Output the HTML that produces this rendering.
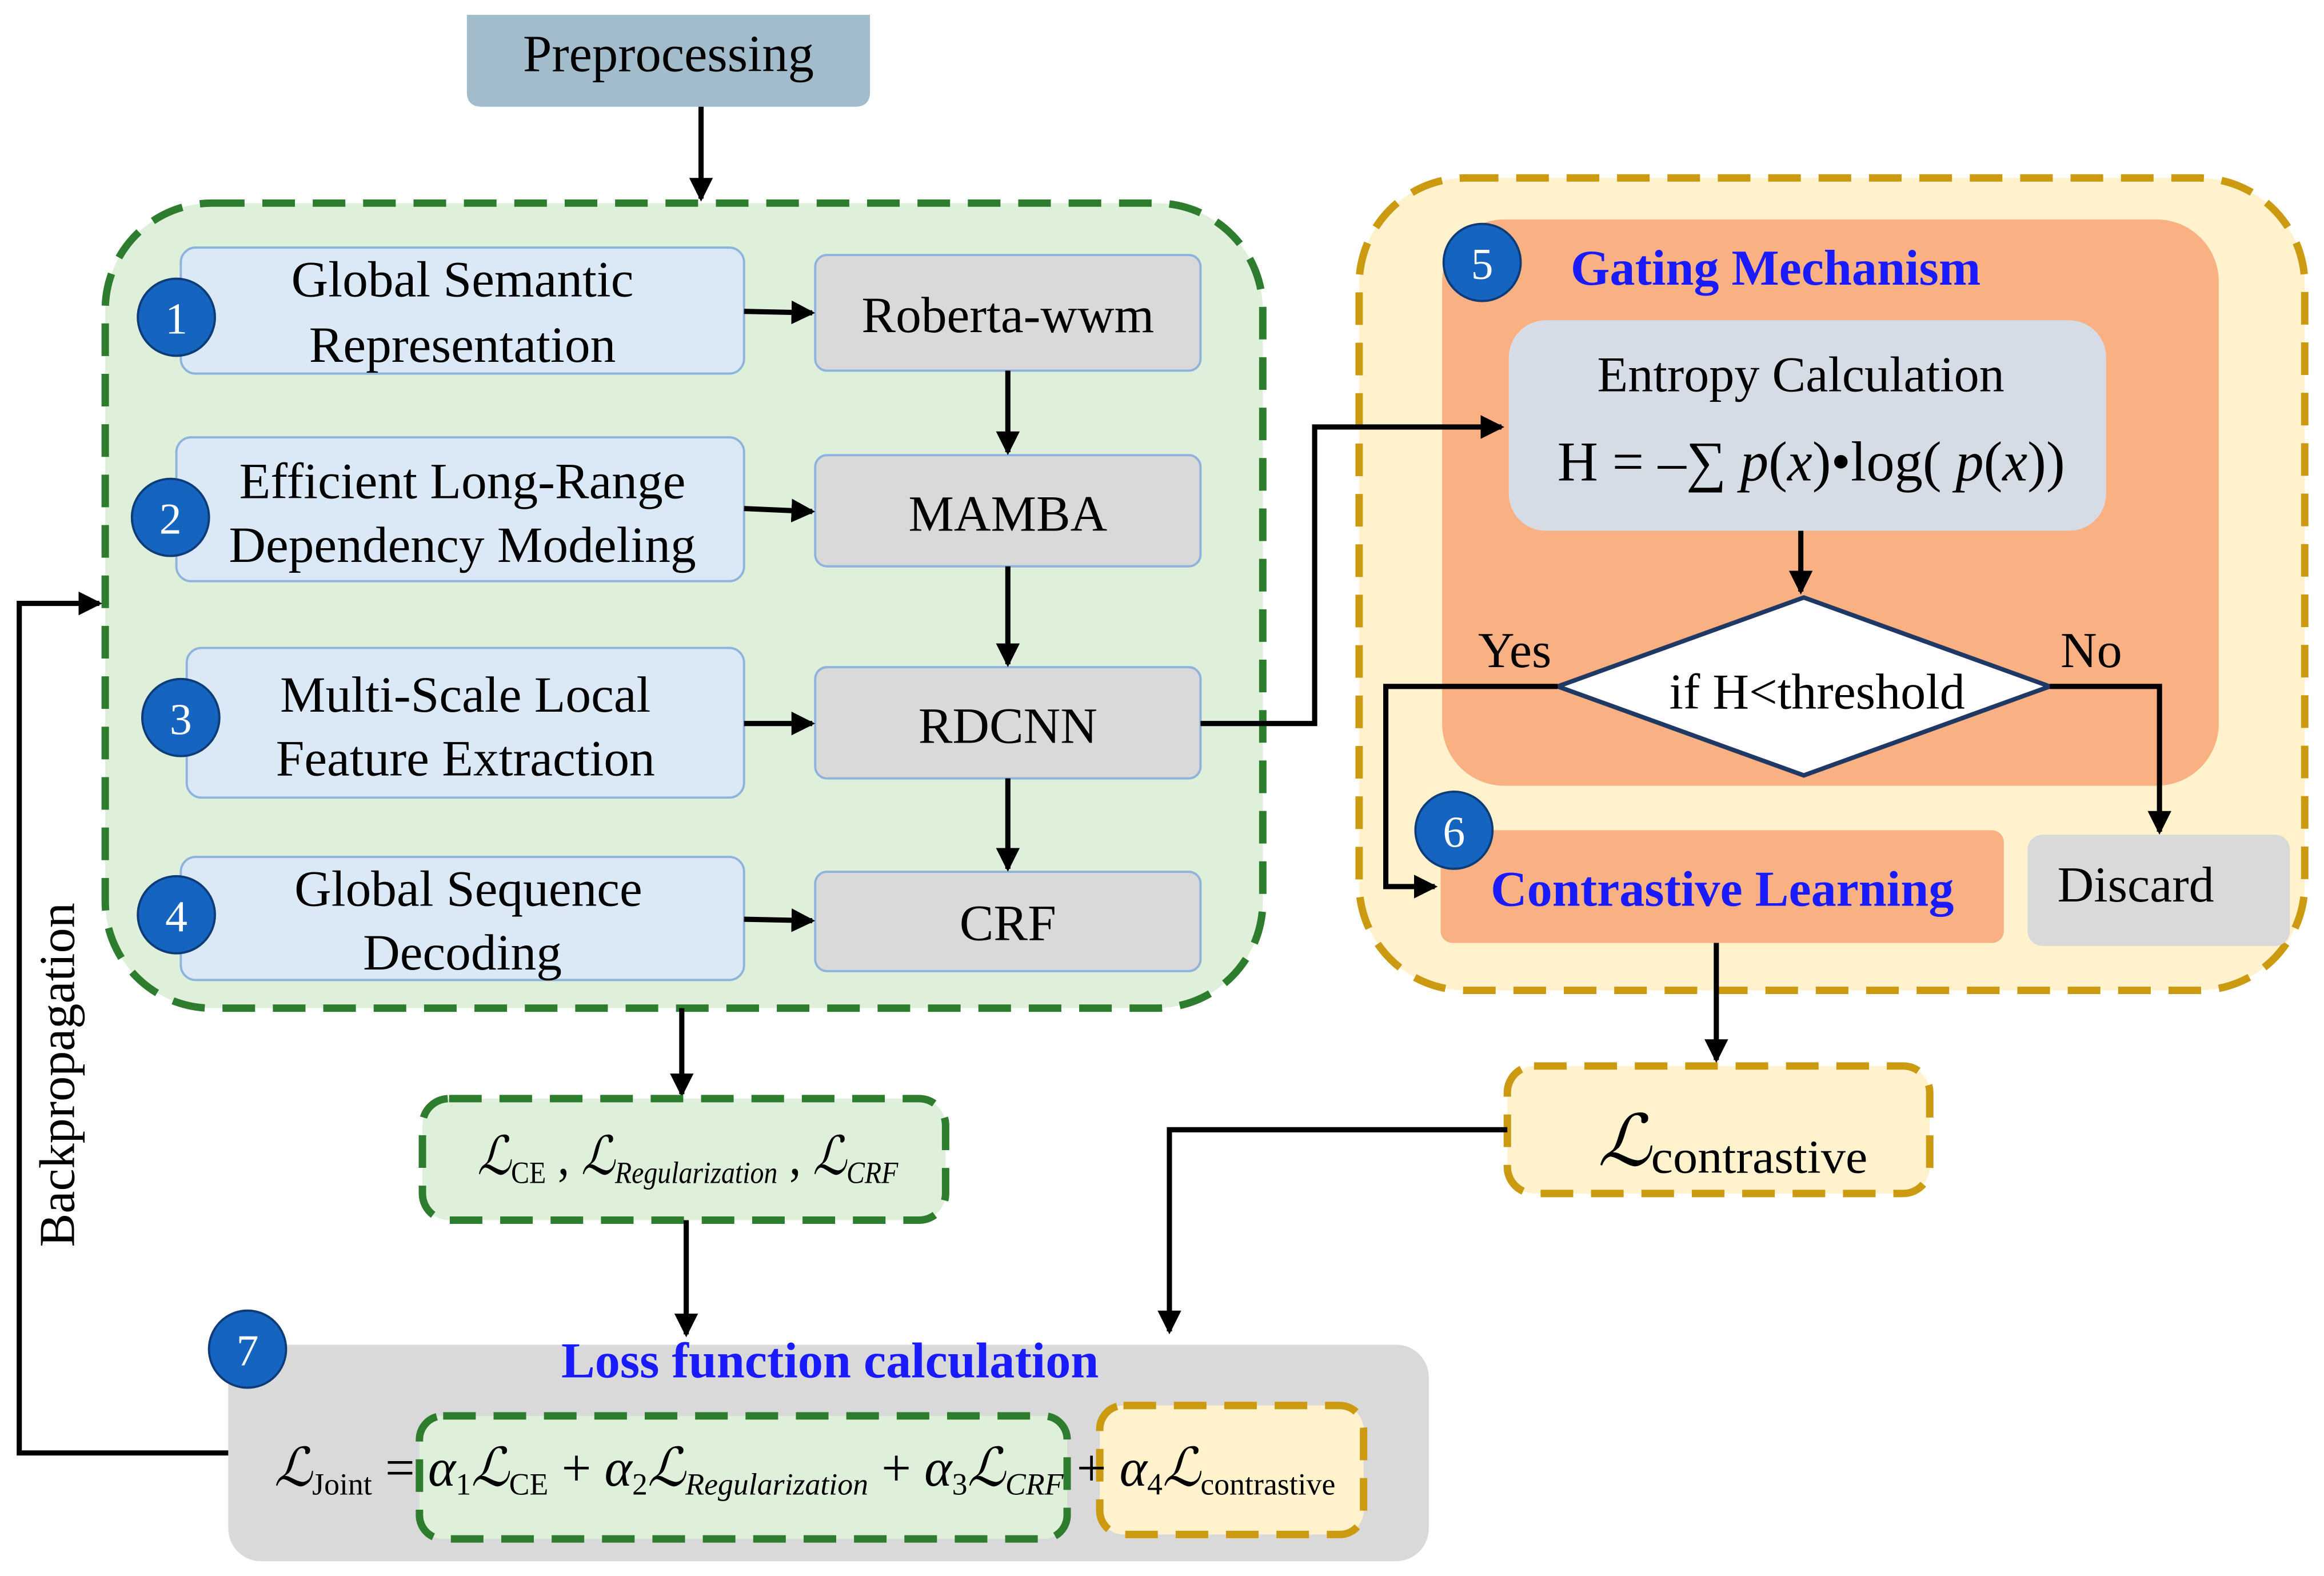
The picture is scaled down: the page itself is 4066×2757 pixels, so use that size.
<!DOCTYPE html>
<html><head><meta charset="utf-8"><style>
html,body{margin:0;padding:0;background:#fff}
svg{display:block}
text{font-family:"Liberation Serif",serif}
</style></head><body>
<svg width="4066" height="2757" viewBox="0 0 1568 1063" preserveAspectRatio="none" xmlns="http://www.w3.org/2000/svg">
<defs>
<marker id="ah2" markerWidth="16" markerHeight="16" refX="14" refY="8" orient="auto" markerUnits="userSpaceOnUse">
<path d="M0,0 L16,8 L0,16 Z" fill="#000"/></marker>
</defs>
<rect width="1568" height="1063" fill="#fff"/>
<!-- Preprocessing -->
<path d="M315,10 H587 V62 Q587,72 577,72 H325 Q315,72 315,62 Z" fill="#a3bccb"/>
<text x="451" y="48" font-size="35" text-anchor="middle">Preprocessing</text>
<line x1="473" y1="72" x2="473" y2="134" stroke="#000" stroke-width="3.5" marker-end="url(#ah2)"/>

<!-- Green main box -->
<rect x="71" y="137" width="781" height="543" rx="72" fill="#dff0da" stroke="#2e7d2e" stroke-width="5" stroke-dasharray="22,12"/>
<g fill="#dbe9f6" stroke="#8fb3dd" stroke-width="1.5">
<rect x="122" y="167" width="380" height="85" rx="10"/>
<rect x="119" y="295" width="383" height="97" rx="10"/>
<rect x="126" y="437" width="376" height="101" rx="10"/>
<rect x="122" y="578" width="380" height="83" rx="10"/>
</g>
<g fill="#d9d9d9" stroke="#8fb3dd" stroke-width="1.5">
<rect x="550" y="172" width="260" height="78" rx="8"/>
<rect x="550" y="307" width="260" height="75" rx="8"/>
<rect x="550" y="450" width="260" height="75" rx="8"/>
<rect x="550" y="588" width="260" height="67" rx="8"/>
</g>
<g font-size="34.5" text-anchor="middle">
<text x="312" y="200">Global Semantic</text><text x="312" y="244">Representation</text>
<text x="312" y="336">Efficient Long-Range</text><text x="312" y="379">Dependency Modeling</text>
<text x="314" y="480">Multi-Scale Local</text><text x="314" y="523">Feature Extraction</text>
<text x="316" y="611">Global Sequence</text><text x="312" y="654">Decoding</text>
<text x="680" y="224">Roberta-wwm</text>
<text x="680" y="358">MAMBA</text>
<text x="680" y="501">RDCNN</text>
<text x="680" y="634">CRF</text>
</g>
<g stroke="#000" stroke-width="3.5" marker-end="url(#ah2)">
<line x1="502" y1="210" x2="548" y2="211"/>
<line x1="502" y1="343" x2="548" y2="345"/>
<line x1="502" y1="488" x2="548" y2="488"/>
<line x1="502" y1="620" x2="548" y2="621"/>
<line x1="680" y1="250" x2="680" y2="305"/>
<line x1="680" y1="382" x2="680" y2="448"/>
<line x1="680" y1="525" x2="680" y2="586"/>
</g>

<!-- Yellow box -->
<rect x="917" y="120" width="638" height="548" rx="72" fill="#fff2cc" stroke="#cc9a10" stroke-width="5" stroke-dasharray="22,12"/>
<rect x="973" y="148" width="524" height="382" rx="42" fill="#f9b183"/>
<text x="1198" y="192" font-size="34" font-weight="bold" fill="#1a1aff" text-anchor="middle">Gating Mechanism</text>
<rect x="1018" y="216" width="403" height="142" rx="25" fill="#d6dce5"/>
<text x="1215" y="264" font-size="34" text-anchor="middle">Entropy Calculation</text>
<text x="1222" y="324" font-size="38" text-anchor="middle">H = –∑ <tspan font-style="italic">p</tspan>(<tspan font-style="italic">x</tspan>)•log( <tspan font-style="italic">p</tspan>(<tspan font-style="italic">x</tspan>))</text>
<line x1="1215" y1="358" x2="1215" y2="399" stroke="#000" stroke-width="3.5" marker-end="url(#ah2)"/>
<polygon points="1051,463 1217,403 1383,463 1217,523" fill="#fff" stroke="#1f3864" stroke-width="3"/>
<text x="1226" y="478" font-size="34" text-anchor="middle">if H&lt;threshold</text>
<text x="1022" y="450" font-size="34" text-anchor="middle">Yes</text>
<text x="1411" y="450" font-size="34" text-anchor="middle">No</text>
<polyline points="1051,463 935,463 935,598 968,598" fill="none" stroke="#000" stroke-width="3.5" marker-end="url(#ah2)"/>
<polyline points="1383,463 1457,463 1457,561" fill="none" stroke="#000" stroke-width="3.5" marker-end="url(#ah2)"/>
<rect x="972" y="560" width="380" height="76" rx="8" fill="#f9b183"/>
<text x="1162" y="611" font-size="34" font-weight="bold" fill="#1a1aff" text-anchor="middle">Contrastive Learning</text>
<rect x="1368" y="563" width="177" height="75" rx="10" fill="#d9d9d9"/>
<text x="1441" y="608" font-size="34" text-anchor="middle">Discard</text>
<line x1="1158" y1="636" x2="1158" y2="715" stroke="#000" stroke-width="3.5" marker-end="url(#ah2)"/>

<!-- RDCNN to entropy -->
<polyline points="810,488 887,488 887,288 1013,288" fill="none" stroke="#000" stroke-width="3.5" marker-end="url(#ah2)"/>

<rect x="1017" y="719" width="285" height="86" rx="18" fill="#fff2cc" stroke="#cc9a10" stroke-width="5" stroke-dasharray="22,12"/>
<text x="1078" y="786" font-size="48" textLength="182" lengthAdjust="spacingAndGlyphs"><tspan font-style="italic">ℒ</tspan><tspan font-size="32" dy="5">contrastive</tspan></text>
<polyline points="1017,762 789,762 789,898" fill="none" stroke="#000" stroke-width="3.5" marker-end="url(#ah2)"/>

<!-- loss terms -->
<line x1="460" y1="680" x2="460" y2="738" stroke="#000" stroke-width="3.5" marker-end="url(#ah2)"/>
<rect x="285" y="741" width="353" height="82" rx="18" fill="#dff0da" stroke="#2e7d2e" stroke-width="5" stroke-dasharray="22,12"/>
<text x="322" y="792" font-size="36" textLength="284" lengthAdjust="spacingAndGlyphs"><tspan font-style="italic">ℒ</tspan><tspan font-size="21" dy="6">CE</tspan><tspan dy="-6"> , </tspan><tspan font-style="italic">ℒ</tspan><tspan font-size="21" dy="6" font-style="italic">Regularization</tspan><tspan dy="-6"> , </tspan><tspan font-style="italic">ℒ</tspan><tspan font-size="21" dy="6" font-style="italic">CRF</tspan></text>
<line x1="463" y1="823" x2="463" y2="900" stroke="#000" stroke-width="3.5" marker-end="url(#ah2)"/>

<!-- Loss calc -->
<rect x="154" y="907" width="810" height="146" rx="22" fill="#d9d9d9"/>
<text x="560" y="929" font-size="34" font-weight="bold" fill="#1a1aff" text-anchor="middle">Loss function calculation</text>
<rect x="283" y="955" width="437" height="83" rx="16" fill="#dff0da" stroke="#2e7d2e" stroke-width="5" stroke-dasharray="22,12"/>
<rect x="742" y="948" width="178" height="87" rx="16" fill="#fff2cc" stroke="#cc9a10" stroke-width="5" stroke-dasharray="22,12"/>
<text x="185" y="1002" font-size="36" textLength="716" lengthAdjust="spacingAndGlyphs"><tspan font-style="italic">ℒ</tspan><tspan font-size="21" dy="6">Joint</tspan><tspan dy="-6"> = </tspan><tspan font-style="italic">α</tspan><tspan font-size="21" dy="6">1</tspan><tspan dy="-6" font-style="italic">ℒ</tspan><tspan font-size="21" dy="6">CE</tspan><tspan dy="-6"> + </tspan><tspan font-style="italic">α</tspan><tspan font-size="21" dy="6">2</tspan><tspan dy="-6" font-style="italic">ℒ</tspan><tspan font-size="21" dy="6" font-style="italic">Regularization</tspan><tspan dy="-6"> + </tspan><tspan font-style="italic">α</tspan><tspan font-size="21" dy="6">3</tspan><tspan dy="-6" font-style="italic">ℒ</tspan><tspan font-size="21" dy="6" font-style="italic">CRF</tspan><tspan dy="-6"> + </tspan><tspan font-style="italic">α</tspan><tspan font-size="21" dy="6">4</tspan><tspan dy="-6" font-style="italic">ℒ</tspan><tspan font-size="21" dy="6">contrastive</tspan></text>

<!-- backprop -->
<polyline points="154,980 13,980 13,407 67,407" fill="none" stroke="#000" stroke-width="3.5" marker-end="url(#ah2)"/>
<text transform="translate(50,725) rotate(-90)" font-size="34" text-anchor="middle">Backpropagation</text>

<!-- circles on top -->
<g fill="#1565c0" stroke="#0d3c78" stroke-width="1.5">
<circle cx="119" cy="214" r="26"/><circle cx="115" cy="349" r="26"/>
<circle cx="122" cy="484" r="26"/><circle cx="119" cy="617" r="26"/>
<circle cx="1000" cy="177" r="26"/><circle cx="981" cy="560" r="26"/>
<circle cx="167" cy="910" r="26"/>
</g>
<g fill="#fff" font-size="30" text-anchor="middle" style="font-family:'Liberation Sans',sans-serif">
<text x="119" y="225">1</text><text x="115" y="360">2</text><text x="122" y="495">3</text><text x="119" y="628">4</text>
<text x="1000" y="188">5</text><text x="981" y="571">6</text><text x="167" y="921">7</text>
</g>
</svg>
</body></html>
